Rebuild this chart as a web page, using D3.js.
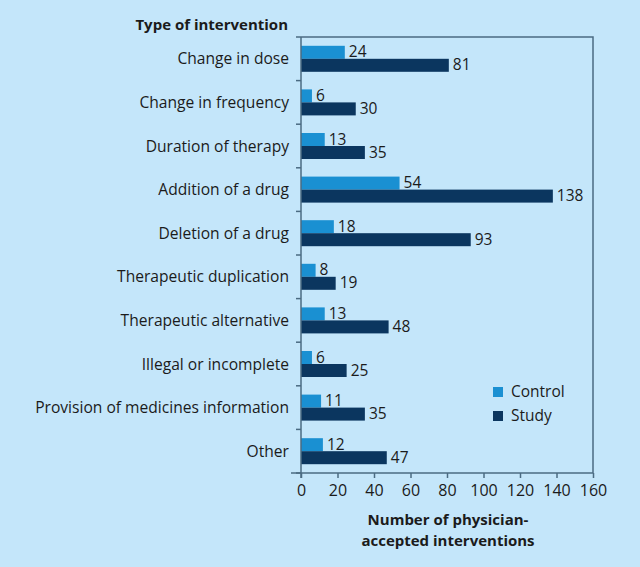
<!DOCTYPE html>
<html><head><meta charset="utf-8">
<script src="https://cdn.jsdelivr.net/npm/d3@7"></script>
<style>
html,body{margin:0;padding:0;background:#c4e6fa;}
svg{display:block;font-family:"Open Sans",Lato,sans-serif;}
</style></head>
<body><svg id="c" width="640" height="567"></svg>
<script>
const categories = ["Change in dose","Change in frequency","Duration of therapy","Addition of a drug","Deletion of a drug","Therapeutic duplication","Therapeutic alternative","Illegal or incomplete","Provision of medicines information","Other"];
const control = [24,6,13,54,18,8,13,6,11,12];
const study = [81,30,35,138,93,19,48,25,35,47];
const seriesNames = ["Control","Study"];
const xTicks = [0,20,40,60,80,100,120,140,160];

const colors = {Control:"#1a90d2", Study:"#0b365f"};
const svg = d3.select("#c");
const pL = 301, pR = 593, pT = 37, pB = 473;
const x = d3.scaleLinear().domain([0,160]).range([pL,pR]);
const y = d3.scaleBand().domain(categories).range([pT,pB]);
const barH = 13;

// plot box
svg.append("path").attr("d",`M${pL},${pT}H${pR}V${pB}`).attr("fill","none").attr("stroke","#4b6b82").attr("stroke-width",1.5);

const data = categories.map((c,i)=>({c, Control:control[i], Study:study[i]}));
const g = svg.append("g");
seriesNames.forEach((s,si)=>{
  g.selectAll(".b"+s).data(data).enter().append("rect")
   .attr("x",x(0)).attr("y",d=>y(d.c)+y.bandwidth()/2-barH+si*barH)
   .attr("width",d=>x(d[s])-x(0)).attr("height",barH).attr("fill",colors[s]);
  g.selectAll(".t"+s).data(data).enter().append("text")
   .attr("x",d=>x(d[s])+4).attr("y",d=>y(d.c)+y.bandwidth()/2-barH+si*barH+barH/2+1)
   .attr("dominant-baseline","middle").attr("font-size",15.5).attr("fill","#1b1b1b")
   .text(d=>d[s]);
});

// y axis
const ya = svg.append("g").attr("transform",`translate(${pL},0)`);
ya.append("line").attr("y1",pT).attr("y2",pB+5).attr("stroke","#4b6b82").attr("stroke-width",1.5);
const bounds = categories.map(c=>y(c)).concat([pB]);
ya.selectAll(".tk").data(bounds).enter().append("line").attr("x1",-5).attr("x2",0).attr("y1",d=>d).attr("y2",d=>d).attr("stroke","#4b6b82").attr("stroke-width",1.5);
ya.selectAll(".lb").data(categories).enter().append("text")
  .attr("x",-12).attr("y",d=>y(d)+y.bandwidth()/2+1.5).attr("text-anchor","end").attr("dominant-baseline","middle")
  .attr("font-size",15.6).attr("fill","#1b1b1b").text(d=>d);

// x axis
const xa = svg.append("g").attr("transform",`translate(0,${pB})`)
  .call(d3.axisBottom(x).tickValues(xTicks).tickSize(5).tickSizeOuter(0));
xa.select(".domain").remove();
xa.selectAll("line").attr("stroke","#4b6b82").attr("stroke-width",1.5).attr("y1",0).attr("y2",5);
xa.selectAll("text").attr("font-size",16).attr("fill","#1b1b1b").attr("y",12).attr("font-family","Open Sans,Lato,sans-serif");
svg.append("line").attr("x1",pL-10).attr("x2",pR).attr("y1",pB).attr("y2",pB).attr("stroke","#4b6b82").attr("stroke-width",1.5);

// titles
svg.append("text").attr("x",288).attr("y",30).attr("text-anchor","end").attr("font-size",15).attr("font-weight","bold").attr("fill","#1b1b1b").text("Type of intervention");
svg.append("text").attr("x",448).attr("y",525).attr("text-anchor","middle").attr("font-size",15).attr("font-weight","bold").attr("fill","#1b1b1b").text("Number of physician-");
svg.append("text").attr("x",448).attr("y",546).attr("text-anchor","middle").attr("font-size",15).attr("font-weight","bold").attr("fill","#1b1b1b").text("accepted interventions");

// legend
const lg = svg.append("g");
seriesNames.forEach((s,i)=>{
  lg.append("rect").attr("x",493).attr("y",387+i*24).attr("width",10).attr("height",10).attr("fill",colors[s]);
  lg.append("text").attr("x",511).attr("y",393+i*24).attr("dominant-baseline","middle").attr("font-size",15.5).attr("fill","#1b1b1b").text(s);
});
</script></body></html>
